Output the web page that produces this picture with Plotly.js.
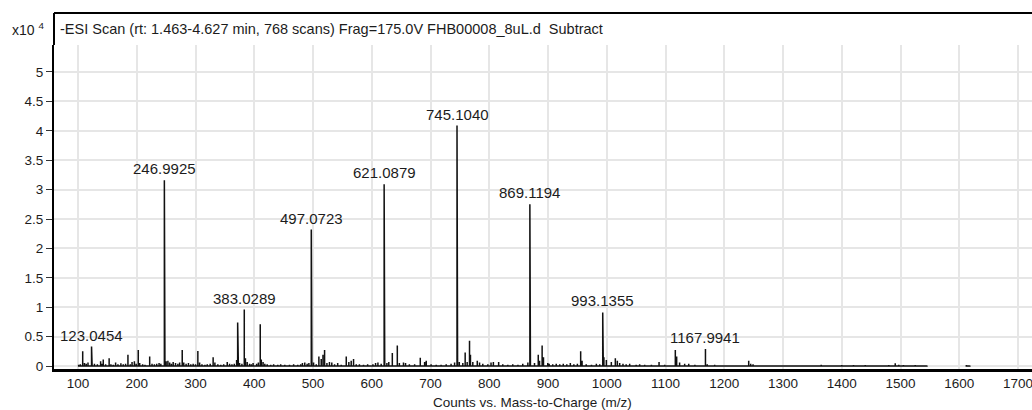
<!DOCTYPE html>
<html>
<head>
<meta charset="utf-8">
<script src="https://cdn.plot.ly/plotly-3.0.1.min.js"></script>
<style>
  html, body { margin: 0; padding: 0; background: #fff; }
  #chart { width: 1032px; height: 410px; }
</style>
</head>
<body>
<div id="chart"></div>
<script>
// Centroided peak list: m/z and intensity (counts, x10^4)
const peakMz = [
  101, 104, 108, 111, 114, 117, 123.0454, 124.05, 128, 133, 138.5, 141, 143, 147, 153, 156, 160, 164, 168, 173,
  177, 181, 185, 189, 192, 196, 199, 202.6, 205, 210, 214, 222, 226, 230, 234, 238, 241, 246.9925, 248, 250,
  253, 256, 259, 262, 266, 270, 273, 277.4, 280, 284, 288, 292, 296, 300, 304, 307, 311, 316, 320, 325,
  330, 333, 338, 343, 348, 354, 358, 362, 366, 370, 371.75, 373, 375, 379, 383.0289, 385, 388, 392, 395, 398,
  404, 407, 410.2, 412, 415, 418, 422, 428, 433, 440, 445, 452, 460, 467, 474, 479, 482, 486, 490, 493,
  497.0723, 498.07, 501, 505.5, 510, 514, 517, 519.7, 523.7, 528, 532, 536.7, 542, 548, 556.6, 561, 565, 569, 573.6, 579,
  586, 593, 602, 606.5, 610.5, 616, 621.0879, 622.09, 625.8, 629, 635, 643.5, 647, 654, 657.5, 664, 673, 682.6, 690, 692.7,
  701, 709.7, 718, 726.7, 735, 741, 745.1040, 746.10, 749, 755, 759, 762.4, 766.4, 768, 772, 779.6, 783.5, 789, 797.6, 803,
  807, 816, 823, 831.6, 840, 848.8, 857, 865.7, 869.1194, 870.12, 877, 883.4, 885.6, 890, 892.3, 899.6, 902, 908, 914, 920,
  926, 932, 938, 944, 950, 955.6, 958, 965, 974, 982.3, 988, 993.1355, 994.14, 995.14, 999.3, 1007.8, 1014.6, 1018, 1022, 1027.6,
  1033, 1039, 1050, 1056, 1064.5, 1076, 1089, 1098.6, 1116.7, 1119, 1124, 1132.6, 1139.5, 1150, 1167.9941, 1171, 1183.6, 1200.6, 1218, 1241.6,
  1245, 1249, 1270, 1300, 1330, 1365, 1385, 1400, 1420, 1440, 1455, 1470, 1480, 1491, 1497, 1505, 1515, 1525, 1535, 1545,
  1612, 1618
];
const peakIntensity = [
  0.02, 0.03, 0.25, 0.05, 0.04, 0.06, 0.33, 0.15, 0.04, 0.03, 0.08, 0.04, 0.11, 0.03, 0.13, 0.03, 0.02, 0.06, 0.03, 0.045,
  0.03, 0.04, 0.19, 0.03, 0.07, 0.08, 0.04, 0.27, 0.05, 0.03, 0.02, 0.16, 0.04, 0.03, 0.04, 0.05, 0.04, 3.16, 0.13, 0.08,
  0.09, 0.06, 0.04, 0.07, 0.05, 0.04, 0.06, 0.27, 0.06, 0.04, 0.05, 0.03, 0.04, 0.03, 0.255, 0.06, 0.03, 0.02, 0.03, 0.04,
  0.15, 0.06, 0.03, 0.02, 0.03, 0.07, 0.04, 0.03, 0.04, 0.10, 0.74, 0.10, 0.05, 0.04, 0.96, 0.13, 0.07, 0.04, 0.03, 0.05,
  0.04, 0.06, 0.71, 0.11, 0.07, 0.04, 0.03, 0.02, 0.03, 0.02, 0.03, 0.02, 0.02, 0.03, 0.02, 0.03, 0.05, 0.06, 0.04, 0.05,
  2.32, 0.93, 0.06, 0.03, 0.16, 0.12, 0.19, 0.27, 0.05, 0.07, 0.06, 0.03, 0.05, 0.02, 0.16, 0.07, 0.09, 0.12, 0.03, 0.03,
  0.02, 0.03, 0.03, 0.05, 0.06, 0.04, 3.09, 0.26, 0.05, 0.07, 0.22, 0.35, 0.05, 0.06, 0.05, 0.03, 0.03, 0.14, 0.07, 0.09,
  0.03, 0.02, 0.02, 0.03, 0.04, 0.06, 4.09, 0.45, 0.07, 0.05, 0.23, 0.07, 0.43, 0.19, 0.07, 0.09, 0.06, 0.04, 0.03, 0.06,
  0.07, 0.07, 0.03, 0.02, 0.03, 0.02, 0.04, 0.06, 2.75, 0.11, 0.05, 0.19, 0.09, 0.35, 0.15, 0.05, 0.04, 0.03, 0.04, 0.03,
  0.04, 0.03, 0.05, 0.03, 0.04, 0.25, 0.09, 0.03, 0.02, 0.04, 0.03, 0.91, 0.48, 0.15, 0.10, 0.07, 0.13, 0.09, 0.05, 0.04,
  0.03, 0.04, 0.02, 0.03, 0.02, 0.02, 0.07, 0.02, 0.27, 0.16, 0.06, 0.04, 0.04, 0.02, 0.29, 0.03, 0.02, 0.01, 0.01, 0.09,
  0.04, 0.03, 0.01, 0.01, 0.01, 0.02, 0.01, 0.015, 0.015, 0.015, 0.01, 0.01, 0.015, 0.045, 0.02, 0.015, 0.01, 0.015, 0.01, 0.01,
  0.015, 0.01
];
// Peaks annotated with their m/z
const labeledMz = [123.0454, 246.9925, 383.0289, 497.0723, 621.0879, 745.1040, 869.1194, 993.1355, 1167.9941];

const xTickVals = [100, 200, 300, 400, 500, 600, 700, 800, 900, 1000, 1100, 1200, 1300, 1400, 1500, 1600, 1700];
const yTickVals = [0, 0.5, 1, 1.5, 2, 2.5, 3, 3.5, 4, 4.5, 5];
const yTickText = ['0', '0.5', '1', '1.5', '2', '2.5', '3', '3.5', '4', '4.5', '5'];

const plotTitle = '-ESI Scan (rt: 1.463-4.627 min, 768 scans) Frag=175.0V FHB00008_8uL.d  Subtract';
const scaleLabel = 'x10 <sup>4</sup>';
const xTitle = 'Counts vs. Mass-to-Charge (m/z)';

// Stick spectrum: each peak is a vertical stroke joined along the baseline
const sx = [], sy = [];
for (let i = 0; i < peakMz.length; i++) {
  if (i > 0 && peakMz[i] - peakMz[i - 1] > 50) { sx.push(null); sy.push(null); }
  sx.push(peakMz[i], peakMz[i], peakMz[i]);
  sy.push(0, peakIntensity[i], 0);
}

const FONT = 'Liberation Sans, Arial, sans-serif';
const TXT = '#1c1c1c';

const annotations = labeledMz.map(m => {
  const idx = peakMz.indexOf(m);
  return {
    x: m, y: peakIntensity[idx], xref: 'x', yref: 'y',
    text: m.toFixed(4), showarrow: false,
    xanchor: 'center', yanchor: 'bottom', yshift: 1,
    font: { family: FONT, size: 15, color: TXT }
  };
});
annotations.push({
  x: 0.004, y: 1.0494, xref: 'paper', yref: 'paper',
  text: plotTitle, showarrow: false, xanchor: 'left', yanchor: 'middle',
  font: { family: FONT, size: 14.5, color: TXT }
});
annotations.push({
  x: -0.0082, y: 1.0494, xref: 'paper', yref: 'paper',
  text: scaleLabel, showarrow: false, xanchor: 'right', yanchor: 'middle',
  font: { family: FONT, size: 14, color: TXT }
});
annotations.push({
  x: 0.4888, y: -0.1019, xref: 'paper', yref: 'paper',
  text: xTitle, showarrow: false, xanchor: 'center', yanchor: 'middle',
  font: { family: FONT, size: 13.5, color: TXT }
});

const trace = {
  x: sx, y: sy, type: 'scatter', mode: 'lines',
  line: { color: '#111', width: 1.5 },
  connectgaps: false, hoverinfo: 'skip', showlegend: false
};

const layout = {
  width: 1032, height: 410,
  margin: { l: 54, r: 0, t: 45, b: 41, pad: 0 },
  paper_bgcolor: '#fff', plot_bgcolor: '#fff',
  showlegend: false,
  xaxis: {
    range: [59.15, 1723.8], tickvals: xTickVals, ticks: '',
    showgrid: true, gridcolor: '#e6e6e6', gridwidth: 2,
    zeroline: false, showline: true, linecolor: '#000', linewidth: 2.5,
    tickfont: { family: FONT, size: 13.5, color: TXT },
    ticklabeloverflow: 'allow', fixedrange: true
  },
  yaxis: {
    range: [-0.051, 5.459], tickvals: yTickVals, ticktext: yTickText,
    ticks: 'outside', ticklen: 6, tickwidth: 1, tickcolor: '#333',
    showgrid: true, gridcolor: '#e6e6e6', gridwidth: 2,
    zeroline: false, showline: true, linecolor: '#000', linewidth: 2,
    tickfont: { family: FONT, size: 13.5, color: TXT }, fixedrange: true
  },
  shapes: [
    { type: 'line', xref: 'paper', yref: 'paper', x0: 0, x1: 0, y0: 1, y1: 1.0988,
      line: { color: '#000', width: 2 } },
    { type: 'line', xref: 'paper', yref: 'paper', x0: 0, x1: 1, y0: 1.0988, y1: 1.0988,
      line: { color: '#000', width: 2 } }
  ],
  annotations: annotations
};

Plotly.newPlot('chart', [trace], layout, { displayModeBar: false, staticPlot: true });
</script>
</body>
</html>
